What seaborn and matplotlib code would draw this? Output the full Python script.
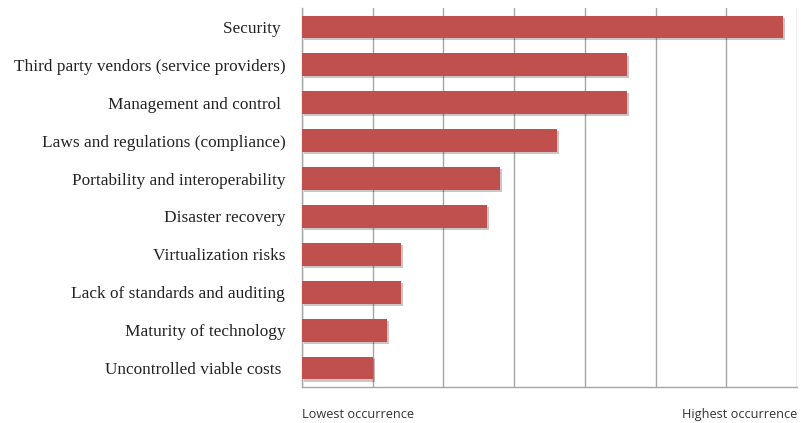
import matplotlib
matplotlib.use("Agg")
import matplotlib.pyplot as plt
import matplotlib.patheffects as pe
import seaborn as sns
import pandas as pd

# categories top to bottom, values in grid units (0-7 scale)
categories = [
    "Security ",
    "Third party vendors (service providers)",
    "Management and control ",
    "Laws and regulations (compliance)",
    "Portability and interoperability",
    "Disaster recovery",
    "Virtualization risks",
    "Lack of standards and auditing",
    "Maturity of technology",
    "Uncontrolled viable costs ",
]
values = [6.8, 4.6, 4.6, 3.6, 2.8, 2.62, 1.4, 1.4, 1.2, 1.0]
axis_labels = ["Lowest occurrence", "Highest occurrence"]

df = pd.DataFrame({"risk": categories, "occurrence": values})

sns.set_style("white")
fig = plt.figure(figsize=(8.01, 4.23), dpi=100)
ax = fig.add_axes([302 / 801, 1 - 387 / 423, 495 / 801, 379 / 423])

sns.barplot(data=df, y="risk", x="occurrence", orient="h", color="#C0504D",
            saturation=1, width=0.6, linewidth=0, ax=ax, zorder=3)

# soft drop shadow like the original
for bar in ax.patches:
    bar.set_path_effects([pe.SimplePatchShadow(offset=(1.5, -1.5), alpha=0.25),
                          pe.Normal()])

ax.set_xlim(0, 7)
ax.set_xticks(range(8))
ax.xaxis.grid(True, color="#A6A6A6", linewidth=1.0, zorder=0)
ax.set_axisbelow(True)
ax.tick_params(axis="x", length=0, labelbottom=False)
ax.tick_params(axis="y", length=0, pad=12)
for lab in ax.get_yticklabels():
    lab.set_fontfamily("Liberation Serif")
    lab.set_fontsize(12.4)
    lab.set_color("#222222")
ax.set_xlabel("")
ax.set_ylabel("")

for side in ["top", "right"]:
    ax.spines[side].set_visible(False)
for side in ["left", "bottom"]:
    ax.spines[side].set_color("#A6A6A6")
    ax.spines[side].set_linewidth(1.0)

ax.text(0, -0.072, axis_labels[0], transform=ax.transAxes, ha="left", va="center",
        fontsize=9.2, family="Open Sans", color="#333333")
ax.text(1, -0.072, axis_labels[1], transform=ax.transAxes, ha="right", va="center",
        fontsize=9.2, family="Open Sans", color="#333333")

fig.savefig("out.png", dpi=100)
